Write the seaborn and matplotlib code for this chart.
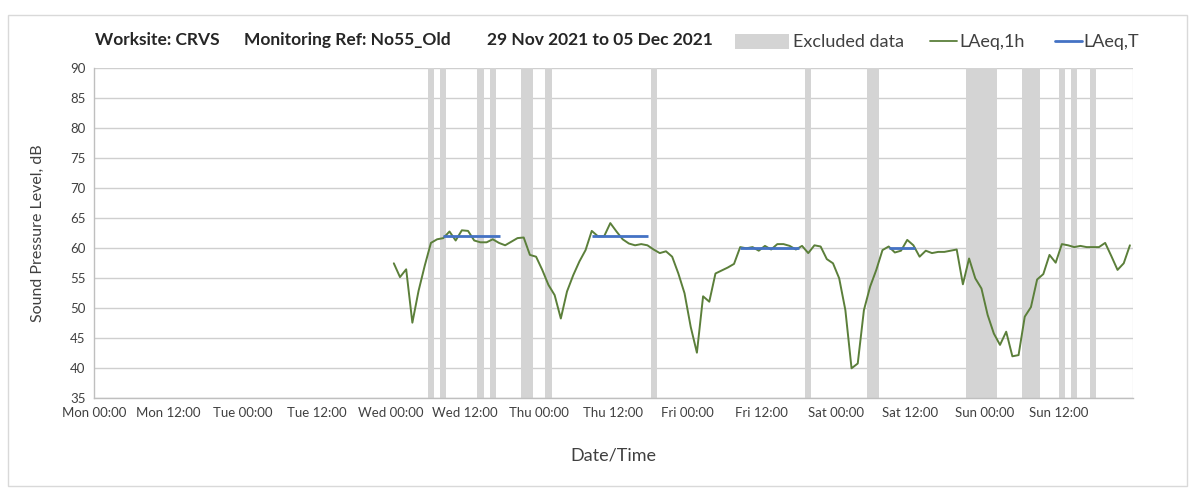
import numpy as np
import pandas as pd
import matplotlib
matplotlib.use("Agg")
import matplotlib.pyplot as plt
import seaborn as sns
from matplotlib.patches import Patch, Rectangle
from matplotlib.lines import Line2D

# ---------------- data ----------------
# hourly LAeq,1h values, first at Wed 00:30 (hours since Mon 00:00)
start_hour = 48.5
laeq_1h = [
    57.4, 55.1, 56.4, 47.5, 52.8, 57.0, 60.8, 61.4, 61.6, 62.7,
    61.2, 62.9, 62.8, 61.2, 60.9, 60.9, 61.4, 60.8, 60.4, 61.0,
    61.6, 61.7, 58.8, 58.5, 56.3, 53.8, 52.1, 48.2, 52.7, 55.4,
    57.7, 59.6, 62.8, 61.9, 61.9, 64.1, 62.7, 61.4, 60.7, 60.4,
    60.6, 60.4, 59.7, 59.1, 59.4, 58.5, 55.7, 52.4, 46.8, 42.5,
    51.9, 51.0, 55.7, 56.2, 56.7, 57.3, 60.1, 59.9, 60.1, 59.5,
    60.3, 59.7, 60.6, 60.6, 60.3, 59.7, 60.3, 59.1, 60.4, 60.2,
    58.1, 57.4, 54.9, 49.6, 39.9, 40.7, 49.6, 53.5, 56.3, 59.6,
    60.2, 59.2, 59.5, 61.3, 60.4, 58.5, 59.5, 59.1, 59.3, 59.3,
    59.5, 59.7, 53.9, 58.2, 54.9, 53.2, 48.8, 45.7, 43.8, 46.0,
    41.9, 42.1, 48.5, 50.1, 54.7, 55.6, 58.8, 57.5, 60.6, 60.4,
    60.1, 60.3, 60.1, 60.1, 60.1, 60.8, 58.6, 56.3, 57.4, 60.4,
]

# LAeq,T periods (hours since Mon 00:00) and levels
laeqT_start = [56.5, 80.5, 104.5, 128.5]
laeqT_end = [65.6, 89.6, 114.0, 132.7]
laeqT_level = [62.0, 62.0, 60.0, 60.0]

# excluded-data periods (hours since Mon 00:00)
excl_start = [54, 56, 62, 64, 69, 73, 90, 115, 125, 141, 150, 156, 158, 161]
excl_end = [55, 57, 63, 65, 71, 74, 91, 116, 127, 146, 153, 157, 159, 162]

tick_labels = ["Mon 00:00", "Mon 12:00", "Tue 00:00", "Tue 12:00",
               "Wed 00:00", "Wed 12:00", "Thu 00:00", "Thu 12:00",
               "Fri 00:00", "Fri 12:00", "Sat 00:00", "Sat 12:00",
               "Sun 00:00", "Sun 12:00"]
y_ticks = [35, 40, 45, 50, 55, 60, 65, 70, 75, 80, 85, 90]

df = pd.DataFrame({
    "hour": start_hour + np.arange(len(laeq_1h)),
    "LAeq,1h": laeq_1h,
})

# ---------------- style ----------------
sns.set_theme(style="white")
plt.rcParams["font.family"] = ["Lato", "DejaVu Sans"]

W, H = 1195, 490
fig = plt.figure(figsize=(W / 100, H / 100), dpi=100)
ax = fig.add_axes([93.8 / W, 1 - 397.7 / H, (1133 - 93.8) / W, (397.7 - 67.7) / H])

green = "#5b7f3a"
blue = "#4472c4"
band = "#d4d4d4"
txt = "#404040"

for s, e in zip(excl_start, excl_end):
    ax.axvspan(s, e, color=band, lw=0, zorder=1)

sns.lineplot(data=df, x="hour", y="LAeq,1h", color=green, lw=1.4, ax=ax, zorder=3)
ax.hlines(laeqT_level, laeqT_start, laeqT_end, colors=blue, lw=2.0, zorder=4)

ax.set_xlim(0, 168)
ax.set_ylim(35, 90)
ax.set_xticks(np.arange(0, 168, 12))
ax.set_xticklabels(tick_labels)
ax.set_xticks(np.arange(0, 169, 24), minor=True)
ax.set_yticks(y_ticks)
ax.set_yticklabels([str(v) for v in y_ticks])

ax.grid(axis="y", which="major", color="#cfcfcf", lw=1.0, zorder=0)
ax.grid(axis="x", which="minor", color="#e6e6e6", lw=1.0, zorder=0)
ax.grid(axis="x", which="major", visible=False)
ax.set_axisbelow(True)

for sp in ["top", "right"]:
    ax.spines[sp].set_visible(False)
for sp in ["left", "bottom"]:
    ax.spines[sp].set_color("#bfbfbf")
    ax.spines[sp].set_linewidth(1.0)

ax.tick_params(axis="both", which="major", direction="out", length=4, width=1,
               color="#bfbfbf", labelsize=9.5, labelcolor=txt, pad=2)
ax.tick_params(axis="x", which="minor", length=0)
ax.tick_params(axis="x", which="major", pad=3)

ax.set_xlabel("Date/Time", fontsize=13, color=txt, labelpad=20)
ax.set_ylabel("Sound Pressure Level, dB", fontsize=11.5, color=txt, labelpad=18)

# title pieces
for xp, s in [(95, "Worksite: CRVS"), (244, "Monitoring Ref: No55_Old"),
              (487, "29 Nov 2021 to 05 Dec 2021")]:
    fig.text(xp / W, 1 - 40 / H, s, fontsize=12.5, fontweight="bold",
             color="#262626", va="center", ha="left")

# legends
leg1 = fig.legend(handles=[Patch(facecolor=band, edgecolor="none", label="Excluded data")],
                  loc="center left", bbox_to_anchor=(735 / W, 1 - 42 / H), frameon=False,
                  handlelength=3.0, handleheight=0.9, handletextpad=0.2, fontsize=13,
                  labelcolor=txt, borderaxespad=0, borderpad=0)
leg2 = fig.legend(handles=[Line2D([], [], color=green, lw=1.3, label="LAeq,1h"),
                           Line2D([], [], color=blue, lw=2.0, label="LAeq,T")],
                  loc="center left", bbox_to_anchor=(930 / W, 1 - 42 / H), frameon=False,
                  ncol=2, handlelength=1.5, handletextpad=0.1, columnspacing=1.7,
                  fontsize=13, labelcolor=txt, borderaxespad=0, borderpad=0)

# outer chart border
fig.patches.append(Rectangle((8 / W, 1 - 486 / H), (1187 - 8) / W, (486 - 15) / H,
                             transform=fig.transFigure, fill=False,
                             edgecolor="#d9d9d9", lw=1.0))

fig.savefig("out.png", dpi=100)
